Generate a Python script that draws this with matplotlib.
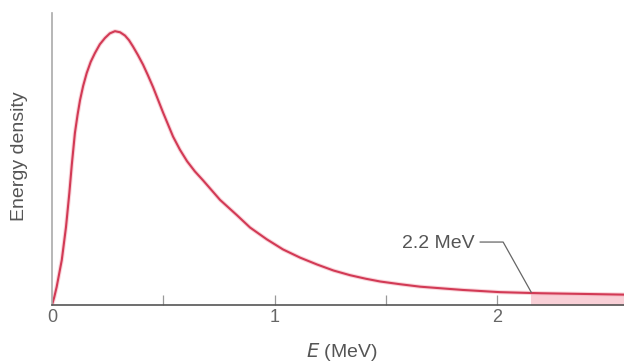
import matplotlib
matplotlib.use("Agg")
import matplotlib.pyplot as plt
import numpy as np

# values (E in MeV, energy density normalised to the peak)
energy = [0.0, 0.010, 0.021, 0.044, 0.063, 0.078, 0.089, 0.103, 0.115, 0.126,
          0.140, 0.156, 0.174, 0.193, 0.215, 0.238, 0.260, 0.283, 0.306, 0.328,
          0.346, 0.364, 0.386, 0.409, 0.431, 0.454, 0.499, 0.544, 0.575, 0.607,
          0.642, 0.679, 0.755, 0.831, 0.890, 0.965, 1.038, 1.115, 1.191, 1.265,
          1.339, 1.410, 1.474, 1.564, 1.654, 1.750, 1.847, 2.013, 2.150, 2.200,
          2.350, 2.570]
density = [0.0, 0.028, 0.066, 0.164, 0.285, 0.409, 0.512, 0.628, 0.695, 0.748,
           0.800, 0.847, 0.888, 0.920, 0.952, 0.975, 0.992, 1.0, 0.996, 0.984,
           0.967, 0.944, 0.913, 0.878, 0.839, 0.796, 0.703, 0.615, 0.567, 0.525,
           0.488, 0.455, 0.384, 0.328, 0.283, 0.240, 0.203, 0.173, 0.148, 0.126,
           0.109, 0.096, 0.086, 0.076, 0.067, 0.061, 0.055, 0.047, 0.044, 0.043,
           0.041, 0.038]

major_ticks = [0, 1, 2]
minor_ticks = [0.5, 1.5]
fill_from = 2.15
label_pos = (1.90, 0.226)
leader_x = [1.924, 2.027, 2.153]
leader_y = [0.230, 0.230, 0.047]

plt.rcParams["font.family"] = ["Liberation Sans", "DejaVu Sans"]

fig = plt.figure(figsize=(6.24, 3.64), dpi=100)
ax = fig.add_axes([0.0833, 0.162, 0.9167, 0.802])

e = np.array(energy)
d = np.array(density)
mask = e >= fill_from
ax.fill_between(e[mask], 0, d[mask], color="#f9d0d7", lw=0)
ax.plot(e, d, color="#f4aab6", lw=3.0, alpha=0.5, solid_capstyle="round")
ax.plot(e, d, color="#d23a55", lw=1.5, solid_capstyle="round", solid_joinstyle="round")

ax.text(label_pos[0], label_pos[1], "2.2 MeV", ha="right", va="center",
        fontsize=14, color="#555555")
ax.plot(leader_x, leader_y, color="#666666", lw=0.9)

ax.set_xlim(0, 2.57)
ax.set_ylim(0, 1.066)

for s in ["top", "right"]:
    ax.spines[s].set_visible(False)
ax.spines["left"].set_color("#aaaaaa")
ax.spines["left"].set_linewidth(1.2)
ax.spines["bottom"].set_color("#555555")
ax.spines["bottom"].set_linewidth(1.2)

ax.set_yticks([])
ax.set_xticks(major_ticks)
ax.set_xticks(minor_ticks, minor=True)
ax.tick_params(axis="x", which="both", direction="in", length=7, width=0.9,
               color="#999999", labelsize=13, labelcolor="#666666", pad=3)
ax.xaxis.get_major_ticks()[0].tick1line.set_visible(False)

ax.set_xlabel(r"$\it{E}$ (MeV)", fontsize=14, color="#555555")
ax.xaxis.label.set_va("center")
ax.xaxis.set_label_coords(0.507, -0.161)
ax.set_ylabel("Energy density", fontsize=14, color="#555555")
ax.yaxis.label.set_va("center")
ax.yaxis.set_label_coords(-0.056, 0.51)

fig.savefig("out.png", dpi=100)
